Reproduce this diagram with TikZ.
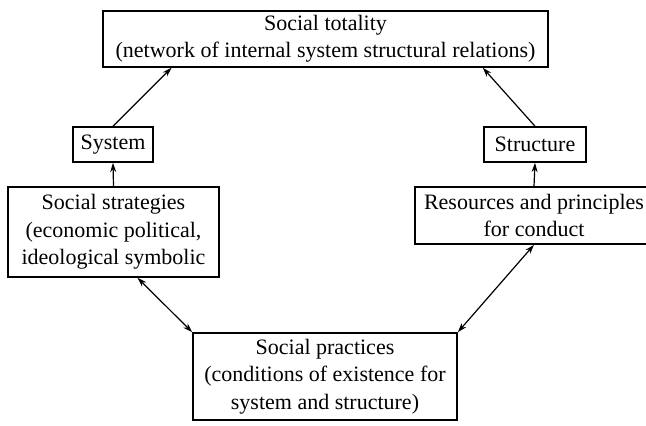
\documentclass[tikz,border=0pt]{standalone}
\usepackage{fontspec}
\setmainfont{Liberation Serif}
\usetikzlibrary{arrows.meta,calc}

\begin{document}
\begin{tikzpicture}[x=0.75pt,y=-0.75pt,
  box/.style={draw,line width=1.2pt,inner sep=0pt,align=center,font=\fontsize{16.5}{20.5}\selectfont},
  link/.style={-{Stealth[length=7pt,width=4.5pt]},line width=0.9pt},
  twolink/.style={{Stealth[length=7pt,width=4.5pt]}-{Stealth[length=7pt,width=4.5pt]},line width=0.9pt}]
\useasboundingbox (0,0) rectangle (646,425);
\node[box,minimum width=333.75pt,minimum height=42pt] (tot) at (325.5,39) {Social totality\\(network of internal system structural relations)};
\node[box,minimum width=60pt,minimum height=26.25pt] (sys) at (113,144.5) {System};
\node[box,minimum width=76.5pt,minimum height=26.25pt] (struc) at (535,144.5) {Structure};
\node[box,minimum width=158.25pt,minimum height=67.5pt] (strat) at (113.5,232) {Social strategies\\(economic political,\\ideological symbolic};
\node[box,minimum width=178.5pt,minimum height=42.75pt] (res) at (534,215.5) {Resources and principles\\for conduct};
\node[box,minimum width=198pt,minimum height=65.25pt] (prac) at (325,376.5) {Social practices\\(conditions of existence for\\system and structure)};
\draw[link] (sys.north) -- ([xshift=52pt]tot.south west);
\draw[link] (struc.north) -- ([xshift=-49.5pt]tot.south east);
\draw[link] (strat.north) -- (sys.south);
\draw[link] (res.north) -- (struc.south);
\draw[twolink] ([xshift=18pt]strat.south) -- (prac.north west);
\draw[twolink] (res.south) -- (prac.north east);
\end{tikzpicture}
\end{document}
